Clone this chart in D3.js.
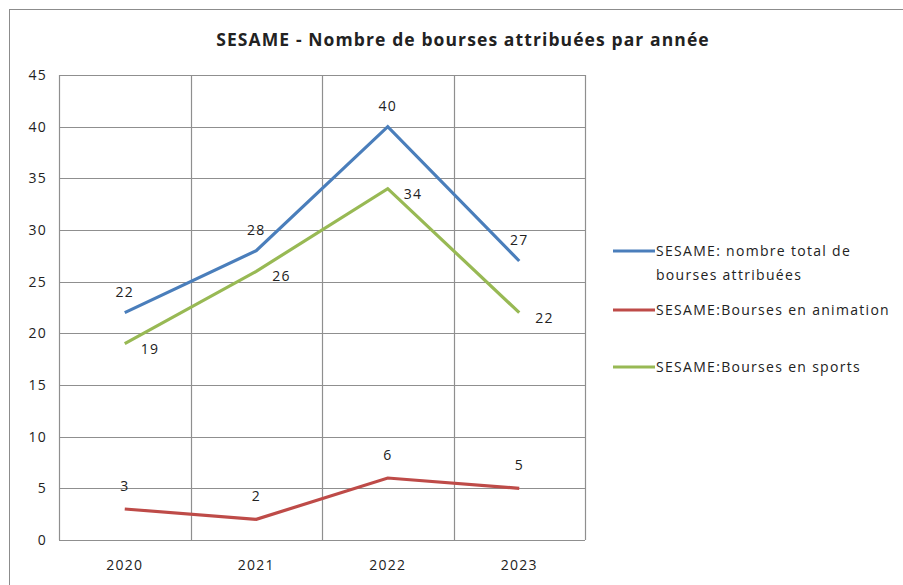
<!DOCTYPE html>
<html>
<head>
<meta charset="utf-8">
<script src="https://cdn.jsdelivr.net/npm/d3@7"></script>
<style>
  body { margin: 0; background: #fff; }
  text { font-family: "Open Sans", Lato, sans-serif; fill: #222; }
</style>
</head>
<body>
<svg id="chart" width="903" height="585"></svg>
<script>
// data
const years = ["2020", "2021", "2022", "2023"];
const totalValues = [22, 28, 40, 27];
const animationValues = [3, 2, 6, 5];
const sportsValues = [19, 26, 34, 22];
const seriesNames = [
	["SESAME: nombre total de", "bourses attribuées"],
	["SESAME:Bourses en animation"],
	["SESAME:Bourses en sports"]
];
const yTicks = [0, 5, 10, 15, 20, 25, 30, 35, 40, 45];

const size = { w: 903, h: 585 };
const margin = { l: 59, t: 75, r: 318, b: 45 };

const svg = d3.select("#chart");

// outer frame, runs off the bottom/right of the picture
svg.append("rect")
	.attr("x", 9.5)
	.attr("y", 9.5)
	.attr("width", 1000)
	.attr("height", 1000)
	.attr("fill", "none")
	.attr("stroke", "#8c8c8c")
	.attr("stroke-width", 1);

svg.append("text")
	.attr("x", 463)
	.attr("y", 46)
	.attr("text-anchor", "middle")
	.style("font-size", "17.5px")
	.style("font-weight", "bold")
	.style("letter-spacing", "1.1px")
	.text("SESAME - Nombre de bourses attribuées par année");

let xScale = d3
	.scaleBand()
	.domain(years)
	.range([margin.l, size.w - margin.r]);

let yScale = d3
	.scaleLinear()
	.domain([0, 45])
	.range([size.h - margin.b, margin.t]);

// horizontal grid
svg.append("g")
	.selectAll("line")
	.data(yTicks)
	.join("line")
	.attr("x1", margin.l)
	.attr("x2", size.w - margin.r)
	.attr("y1", (d) => Math.round(yScale(d)) + 0.5)
	.attr("y2", (d) => Math.round(yScale(d)) + 0.5)
	.attr("stroke", "#8f8f8f")
	.attr("stroke-width", 1.2);

// vertical grid (band edges)
let edges = years.map((d) => xScale(d)).concat([size.w - margin.r]);
svg.append("g")
	.selectAll("line")
	.data(edges)
	.join("line")
	.attr("x1", (d) => Math.round(d) + 0.5)
	.attr("x2", (d) => Math.round(d) + 0.5)
	.attr("y1", margin.t)
	.attr("y2", size.h - margin.b)
	.attr("stroke", "#8f8f8f")
	.attr("stroke-width", 1.2);

let yAxis = d3.axisLeft(yScale).tickValues(yTicks).tickSize(0).tickPadding(12);
let yG = svg.append("g")
	.attr("transform", `translate(${margin.l}, 0)`)
	.call(yAxis);
yG.select(".domain").remove();
yG.selectAll("text")
	.style("font-size", "14px")
	.style("letter-spacing", "1.2px")
	.attr("fill", "#222");

let xAxis = d3.axisBottom(xScale).tickSize(0).tickPadding(20);
let xG = svg.append("g")
	.attr("transform", `translate(0, ${size.h - margin.b})`)
	.call(xAxis);
xG.select(".domain").remove();
xG.selectAll("text")
	.style("font-size", "14px")
	.style("letter-spacing", "1.2px")
	.attr("fill", "#222");

const series = [
	{ values: totalValues, color: "#4a7ebb", dx: 0, dy: -16, anchor: "middle" },
	{ values: animationValues, color: "#be4b48", dx: 0, dy: -18, anchor: "middle" },
	{ values: sportsValues, color: "#98b954", dx: 16, dy: 10, anchor: "start" }
];

let line = d3
	.line()
	.x((d, i) => xScale(years[i]) + xScale.bandwidth() / 2)
	.y((d) => yScale(d));

series.forEach((s) => {
	svg.append("path")
		.datum(s.values)
		.attr("d", line)
		.attr("fill", "none")
		.attr("stroke", s.color)
		.attr("stroke-width", 3.2)
		.attr("stroke-linejoin", "miter");

	svg.append("g")
		.selectAll("text")
		.data(s.values)
		.join("text")
		.attr("x", (d, i) => xScale(years[i]) + xScale.bandwidth() / 2 + s.dx)
		.attr("y", (d) => yScale(d) + s.dy)
		.attr("text-anchor", s.anchor)
		.style("font-size", "14px")
		.style("letter-spacing", "1.2px")
		.text((d) => d);
});

// legend
const legendY = [251, 310, 367];
let legendG = svg.append("g")
	.selectAll("g")
	.data(series)
	.join("g")
	.attr("transform", (d, i) => `translate(613, ${legendY[i]})`);

legendG.append("line")
	.attr("x1", 0)
	.attr("x2", 42)
	.attr("y1", 0)
	.attr("y2", 0)
	.attr("stroke", (d) => d.color)
	.attr("stroke-width", 3.2);

legendG.append("text")
	.attr("x", 43)
	.attr("y", 5)
	.style("font-size", "14px")
	.style("letter-spacing", "1.3px")
	.selectAll("tspan")
	.data((d, i) => seriesNames[i])
	.join("tspan")
	.attr("x", 43)
	.attr("dy", (d, j) => (j === 0 ? 0 : 24))
	.text((d) => d);
</script>
</body>
</html>
